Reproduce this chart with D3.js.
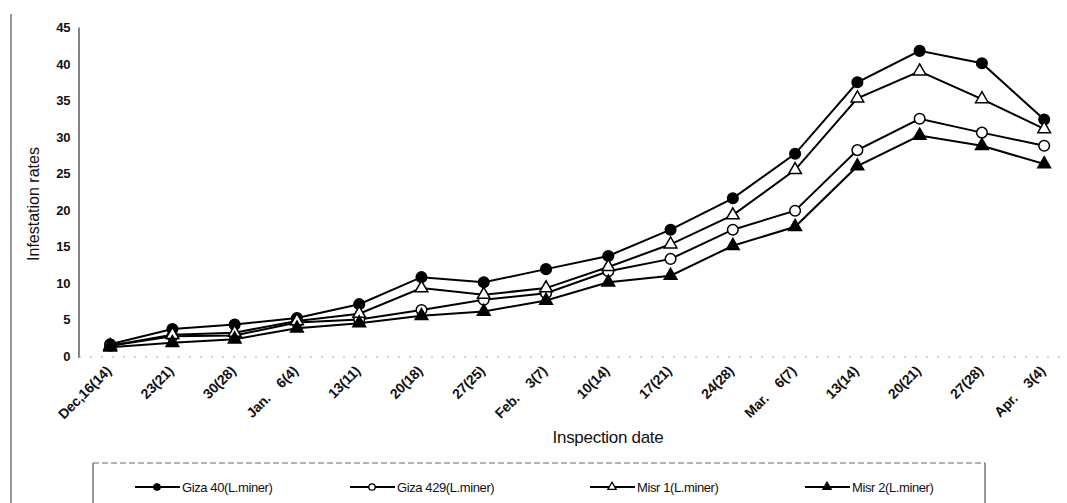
<!DOCTYPE html>
<html>
<head>
<meta charset="utf-8">
<script src="https://cdn.jsdelivr.net/npm/d3@7"></script>
<style>
  html, body { margin: 0; padding: 0; background: #fff; }
  svg { display: block; font-family: "Liberation Sans", Arial, sans-serif; }
</style>
</head>
<body>
<svg id="chart" width="1067" height="503"></svg>
<script>
// Inspection dates (x categories)
const dates = ["Dec,16(14)", "23(21)", "30(28)", "Jan.    6(4)", "13(11)", "20(18)", "27(25)",
  "Feb.    3(7)", "10(14)", "17(21)", "24(28)", "Mar.    6(7)", "13(14)", "20(21)", "27(28)", "Apr.    3(4)"];

// Infestation rates per variety
const giza40  = [1.6, 3.7, 4.3, 5.2, 7.1, 10.8, 10.1, 11.9, 13.7, 17.3, 21.6, 27.7, 37.5, 41.8, 40.1, 32.4];
const giza429 = [1.4, 2.7, 2.8, 4.6, 5.0, 6.3, 7.7, 8.6, 11.6, 13.3, 17.3, 19.9, 28.2, 32.5, 30.6, 28.8];
const misr1   = [1.4, 2.9, 3.2, 4.8, 5.8, 9.3, 8.4, 9.3, 12.2, 15.3, 19.3, 25.5, 35.3, 39.0, 35.2, 31.1];
const misr2   = [1.2, 1.8, 2.3, 3.8, 4.5, 5.5, 6.1, 7.6, 10.1, 11.0, 15.1, 17.7, 26.0, 30.2, 28.8, 26.3];

const yTicks = [0, 5, 10, 15, 20, 25, 30, 35, 40, 45];

const seriesNames = ["Giza 40(L.miner)", "Giza 429(L.miner)", "Misr 1(L.miner)", "Misr 2(L.miner)"];
const seriesValues = [giza40, giza429, misr1, misr2];
const seriesMarkers = [
  { shape: "circle", fill: "#000" },
  { shape: "circle", fill: "#fff" },
  { shape: "triangle", fill: "#fff" },
  { shape: "triangle", fill: "#000" }
];

const svg = d3.select("#chart");

const plotLeft = 79, plotBottom = 356, plotTop = 27.5;
const x = d3.scalePoint().domain(dates).range([plotLeft, plotLeft + 16 * 62.27]).padding(0.5);
const y = d3.scaleLinear().domain([0, 45]).range([plotBottom, plotTop]);

// page border on the left
svg.append("line").attr("x1", 11).attr("x2", 11).attr("y1", 14).attr("y2", 503)
  .attr("stroke", "#555").attr("stroke-width", 1.2);

// y axis line
svg.append("line").attr("x1", plotLeft).attr("x2", plotLeft).attr("y1", plotTop).attr("y2", plotBottom + 2)
  .attr("stroke", "#333").attr("stroke-width", 1.2);

// x axis baseline (faint)
svg.append("line").attr("x1", plotLeft).attr("x2", 1067).attr("y1", plotBottom + 1).attr("y2", plotBottom + 1)
  .attr("stroke", "#aaa").attr("stroke-width", 1).attr("stroke-dasharray", "2,9");

// y tick labels
svg.append("g").selectAll("text").data(yTicks).join("text")
  .attr("x", 70).attr("y", d => y(d)).attr("dy", "0.35em")
  .attr("text-anchor", "end").attr("font-size", 13).attr("font-weight", "bold")
  .attr("fill", "#111").attr("letter-spacing", -0.4).text(d => d);

// x tick labels, rotated
svg.append("g").selectAll("text").data(dates).join("text")
  .attr("transform", d => `translate(${x(d) - 5},${plotBottom + 9}) rotate(-45)`)
  .attr("text-anchor", "end").attr("dy", "0.7em")
  .attr("font-size", 14).attr("font-weight", "bold").attr("fill", "#111")
  .attr("letter-spacing", -0.2)
  .style("white-space", "pre").text(d => d);

// axis titles
svg.append("text").attr("transform", `translate(39,204) rotate(-90)`)
  .attr("text-anchor", "middle").attr("font-size", 16).attr("fill", "#111").text("Infestation rates");
svg.append("text").attr("x", 608).attr("y", 443).attr("text-anchor", "middle")
  .attr("font-size", 17).attr("fill", "#111").attr("letter-spacing", -0.3).text("Inspection date");

const line = d3.line().x((d, i) => x(dates[i])).y(d => y(d));
const triangle = d3.symbol().type(d3.symbolTriangle).size(70);

function drawMarker(g, m, cx, cy) {
  if (m.shape === "circle") {
    g.append("circle").attr("cx", cx).attr("cy", cy).attr("r", 5.3)
      .attr("fill", m.fill).attr("stroke", "#000").attr("stroke-width", 1.5);
  } else {
    g.append("path").attr("d", triangle()).attr("transform", `translate(${cx},${cy})`)
      .attr("fill", m.fill).attr("stroke", "#000").attr("stroke-width", 1.5);
  }
}

// series lines and markers
seriesValues.forEach((vals, s) => {
  const g = svg.append("g");
  g.append("path").datum(vals).attr("d", line)
    .attr("fill", "none").attr("stroke", "#000").attr("stroke-width", 2);
  vals.forEach((v, i) => drawMarker(g, seriesMarkers[s], x(dates[i]), y(v)));
});

// legend box
const lg = svg.append("g");
lg.append("line").attr("x1", 93).attr("x2", 985).attr("y1", 463).attr("y2", 463)
  .attr("stroke", "#666").attr("stroke-width", 1).attr("stroke-dasharray", "6,3");
lg.append("line").attr("x1", 93).attr("x2", 93).attr("y1", 463).attr("y2", 503)
  .attr("stroke", "#555").attr("stroke-width", 1.2);
lg.append("line").attr("x1", 985).attr("x2", 985).attr("y1", 463).attr("y2", 503)
  .attr("stroke", "#555").attr("stroke-width", 1.2);

const legendX = [135, 350, 590, 805];
seriesNames.forEach((name, s) => {
  const lx = legendX[s], ly = 487;
  lg.append("line").attr("x1", lx).attr("x2", lx + 45).attr("y1", ly).attr("y2", ly)
    .attr("stroke", "#000").attr("stroke-width", 2);
  const gm = lg.append("g");
  if (seriesMarkers[s].shape === "circle") {
    gm.append("circle").attr("cx", lx + 22).attr("cy", ly).attr("r", 3.2)
      .attr("fill", seriesMarkers[s].fill).attr("stroke", "#000").attr("stroke-width", 1.3);
  } else {
    gm.append("path").attr("d", d3.symbol().type(d3.symbolTriangle).size(30)())
      .attr("transform", `translate(${lx + 22},${ly})`)
      .attr("fill", seriesMarkers[s].fill).attr("stroke", "#000").attr("stroke-width", 1.3);
  }
  lg.append("text").attr("x", lx + 47).attr("y", ly).attr("dy", "0.35em")
    .attr("font-size", 13).attr("fill", "#111").attr("letter-spacing", -0.4).text(name);
});
</script>
</body>
</html>
